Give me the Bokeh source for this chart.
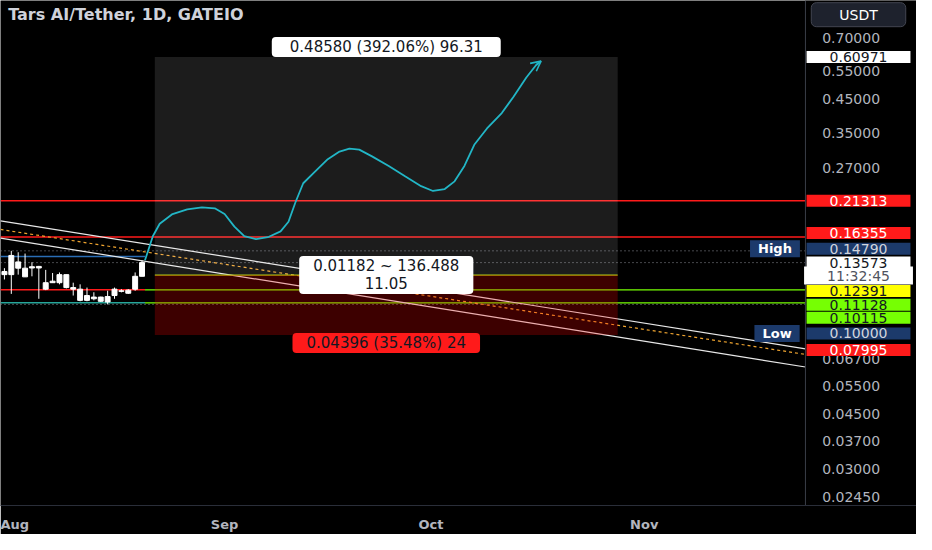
from bokeh.plotting import figure
from bokeh.models import Range1d, FixedTicker, Label, Arrow, OpenHead
from bokeh.core.properties import value
from bokeh.embed import file_html
from bokeh.resources import INLINE

# ---------------- data ----------------
TITLE = "Tars AI/Tether, 1D, GATEIO"
CURRENCY = "USDT"

month_days = [0, 31, 61, 92]            # days since 1 Aug
month_names = ["Aug", "Sep", "Oct", "Nov"]
price_ticks = [0.70, 0.55, 0.45, 0.35, 0.27, 0.067, 0.055, 0.045, 0.037, 0.030, 0.0245]

candle_day = list(range(-1, 20))
candle_open = [0.1272, 0.1243, 0.1364, 0.1303, 0.1317, 0.1305, 0.1172, 0.1185, 0.1172, 0.1243, 0.1131,
               0.1118, 0.1030, 0.1055, 0.1023, 0.1018, 0.1067, 0.1105, 0.1085, 0.1118, 0.1228]
candle_high = [0.1303, 0.1479, 0.1464, 0.1450, 0.1361, 0.1325, 0.1287, 0.1258, 0.1263, 0.1243, 0.1172,
               0.1158, 0.1131, 0.1093, 0.1058, 0.1105, 0.1131, 0.1118, 0.1118, 0.1263, 0.1380]
candle_low = [0.1200, 0.1080, 0.1243, 0.1223, 0.1228, 0.1042, 0.1110, 0.1172, 0.1158, 0.1124, 0.1067,
              0.1023, 0.1023, 0.1030, 0.1018, 0.1000, 0.1042, 0.1092, 0.1080, 0.1105, 0.1228]
candle_close = [0.1243, 0.1430, 0.1303, 0.1223, 0.1305, 0.1320, 0.1118, 0.1172, 0.1243, 0.1131, 0.1118,
                0.1030, 0.1067, 0.1042, 0.1055, 0.1059, 0.1118, 0.1100, 0.1110, 0.1228, 0.13573]

proj_day = [19.43, 20.57, 21.57, 23.43, 25.57, 27.71, 29.57, 31.0, 32.43, 33.86, 35.57, 37.29, 39.14,
            40.29, 41.29, 42.43, 44.14, 46.0, 47.71, 49.14, 50.57, 52.43, 54.86, 57.29, 59.57, 61.29,
            63.0, 64.43, 65.86, 67.29, 69.14, 71.29, 73.0, 74.86, 76.29, 77.0]
proj_price = [0.1380, 0.1646, 0.1803, 0.1935, 0.2003, 0.2032, 0.2018, 0.1935, 0.1765, 0.1646, 0.1611,
              0.1634, 0.1705, 0.1829, 0.2105, 0.2423, 0.2636, 0.2888, 0.3055, 0.3120, 0.3098, 0.2949,
              0.2749, 0.2545, 0.2372, 0.2290, 0.2323, 0.2457, 0.2749, 0.3209, 0.3616, 0.4046, 0.4560,
              0.5248, 0.5750, 0.5914]

red_levels = [0.21313, 0.16355]
green_levels = [0.11128, 0.10115]
blue_level = 0.1420
last_price = 0.13573
countdown = "11:32:45"
range_high = 0.14790
range_low = 0.10000

pos_start, pos_end = 20.86, 88.14
entry_price = 0.12391
target_price = 0.60971
stop_price = 0.07995
target_text = "0.48580 (392.06%) 96.31"
mid_text = "0.01182 ~ 136.488\n11.05"
stop_text = "0.04396 (35.48%) 24"

trend_days = [-1.571, 115.43]
trend_upper = [0.1842, 0.0723]
trend_lower = [0.1623, 0.0633]
trend_mid = [0.1729, 0.0694]

tag_values = [0.60971, 0.21313, 0.16355, 0.14790, 0.13573, 0.12391, 0.11128, 0.10115, 0.10000, 0.07995]
tag_bg = ["#ffffff", "#ff1a1a", "#ff1a1a", "#1c3a6b", "#ffffff", "#ffff00", "#76ff03", "#76ff03",
          "#1c3a6b", "#ff1a1a"]
tag_fg = ["#131722", "#ffffff", "#ffffff", "#d1d4dc", "#131722", "#131722", "#131722", "#131722",
          "#d1d4dc", "#ffffff"]
tag_shift = [0, 0, -4, -2, 0, 16, 15, 15, 29, 15]   # px (down) to avoid overlapping

# ---------------- figure ----------------
X0, X1 = -11 / 7, 921 / 7       # chart + price-scale strip
AXIS_X = 808 / 7                # price scale border
TICK_X = 825 / 7                # price scale label column
TAG_X = 862 / 7                 # price tag centre
FONT = "DejaVu Sans"
CYAN = "#22b6c6"
Y0, Y1 = 0.02302, 0.9207

p = figure(width=916, height=534, x_range=Range1d(X0, X1), y_range=Range1d(Y0, Y1),
           y_axis_type="log", y_axis_location=None, output_backend="svg", toolbar_location=None,
           min_border_left=0, min_border_top=0, min_border_right=0, min_border_bottom=24,
           background_fill_color="#000000", border_fill_color="#000000", outline_line_color=None)
p.xgrid.grid_line_color = None
p.ygrid.grid_line_color = None

xa = p.xaxis[0]
xa.ticker = FixedTicker(ticks=month_days)
xa.major_label_overrides = {d: n for d, n in zip(month_days, month_names)}
xa.axis_line_color = "#2a2e39"
xa.major_tick_line_color = None
xa.minor_tick_line_color = None
xa.major_label_text_color = "#b2b5be"
xa.major_label_text_font = FONT
xa.major_label_text_font_size = "13px"
xa.major_label_text_font_style = "bold"
xa.major_label_standoff = 5

ray_start = candle_day[-1] + 0.43

# horizontal levels
for lv in red_levels:
    p.segment(x0=X0, y0=lv, x1=AXIS_X, y1=lv, line_color="#ff1a1a", line_width=1.5)
p.segment(x0=X0, y0=green_levels[0], x1=ray_start, y1=green_levels[0], line_color="#ff1a1a", line_width=1.5)
p.segment(x0=X0, y0=green_levels[1], x1=ray_start, y1=green_levels[1], line_color="#26a69a", line_width=1.5)
for lv in green_levels:
    p.segment(x0=ray_start, y0=lv, x1=AXIS_X, y1=lv, line_color="#76ff03", line_width=1.2)
p.segment(x0=X0, y0=blue_level, x1=ray_start, y1=blue_level, line_color="#2a6db5", line_width=1.5)
for lv in [range_high, last_price, range_low]:
    p.segment(x0=X0, y0=lv, x1=AXIS_X, y1=lv, line_color="#8a8d96", line_width=1, line_dash="1 3")

# trend lines
p.line(trend_days, trend_upper, line_color="#e8e8e8", line_width=1.2)
p.line(trend_days, trend_lower, line_color="#e8e8e8", line_width=1.2)
p.line(trend_days, trend_mid, line_color="#f0a530", line_width=1.2, line_dash="3 3")

# position tool
p.segment(x0=pos_start, y0=entry_price, x1=pos_end, y1=entry_price, line_color="#a8c800", line_width=1.2)
p.quad(left=[pos_start], right=[pos_end], bottom=[entry_price], top=[target_price],
       fill_color="#ffffff", fill_alpha=0.11, line_color=None)
p.quad(left=[pos_start], right=[pos_end], bottom=[stop_price], top=[entry_price],
       fill_color="#ff0000", fill_alpha=0.24, line_color=None)

# candles
body_top = [max(o, c) for o, c in zip(candle_open, candle_close)]
body_bot = [min(o, c) for o, c in zip(candle_open, candle_close)]
p.segment(x0=candle_day, y0=candle_low, x1=candle_day, y1=candle_high, line_color="#ffffff", line_width=1)
p.vbar(x=candle_day, width=0.72, top=body_top, bottom=body_bot, fill_color="#ffffff", line_color="#ffffff")

# projection
p.line(proj_day, proj_price, line_color=CYAN, line_width=1.8)
p.add_layout(Arrow(end=OpenHead(size=10, line_color=CYAN, line_width=1.6),
                   x_start=proj_day[-2], y_start=proj_price[-2], x_end=proj_day[-1], y_end=proj_price[-1],
                   line_color=CYAN, line_width=1.8))

# price scale (right strip)
p.quad(left=[AXIS_X], right=[X1], bottom=[Y0], top=[Y1], fill_color="#000000", line_color=None)
p.segment(x0=[AXIS_X], y0=[Y0], x1=[AXIS_X], y1=[Y1], line_color="#3a3e48", line_width=1)
p.text(x=[TICK_X] * len(price_ticks), y=price_ticks, text=["%.5f" % v for v in price_ticks],
       text_font=value(FONT), text_font_size="14px", text_color="#b2b5be",
       text_align="left", text_baseline="middle")

# title
p.add_layout(Label(x=-0.45, y=0.83, text=TITLE, text_font=FONT, text_font_size="16px",
                   text_font_style="bold", text_color="#cfd2da", text_baseline="middle"))

# currency button
p.add_layout(Label(x=TAG_X, y=0.83, text=CURRENCY, text_font=FONT, text_font_size="14px",
                   text_color="#ffffff", text_align="center", text_baseline="middle",
                   background_fill_color="#1e222d", border_line_color="#434651", border_radius=5,
                   padding={"x": 28, "y": 4}))

# countdown below the last-price tag (drawn first so that the tags below overlap it)
p.add_layout(Label(x=TAG_X, y=last_price, y_offset=-13, text=countdown, text_font=FONT,
                   text_font_size="14px", text_color="#50535e", text_align="center",
                   text_baseline="middle", background_fill_color="#ffffff", padding={"x": 23, "y": 1}))

# price tags
for v, bg, fg, sh in zip(tag_values, tag_bg, tag_fg, tag_shift):
    p.add_layout(Label(x=TAG_X, y=v, y_offset=-sh, text="%.5f" % v, text_font=FONT,
                       text_font_size="14px", text_color=fg, text_align="center",
                       text_baseline="middle", background_fill_color=bg, padding={"x": 23, "y": 1}))

# High / Low labels
p.add_layout(Label(x=111.0, y=range_high, y_offset=2, text="High", text_font=FONT, text_font_size="13px",
                   text_font_style="bold", text_color="#ffffff", text_align="center",
                   text_baseline="middle", background_fill_color="#1c3a6b", padding={"x": 8, "y": 1}))
p.add_layout(Label(x=111.3, y=range_low, y_offset=-29, text="Low", text_font=FONT, text_font_size="13px",
                   text_font_style="bold", text_color="#ffffff", text_align="center",
                   text_baseline="middle", background_fill_color="#1c3a6b", padding={"x": 8, "y": 1}))

# position labels
pos_mid = (pos_start + pos_end) / 2
p.add_layout(Label(x=pos_mid, y=target_price, y_offset=10, text=target_text, text_font=FONT,
                   text_font_size="15px", text_color="#131722", text_align="center", text_baseline="middle",
                   background_fill_color="#ffffff", border_radius=4, padding={"x": 18, "y": 1}))
p.add_layout(Label(x=pos_mid, y=entry_price, text=mid_text, text_font=FONT, text_line_height=1.0,
                   text_font_size="15px", text_color="#131722", text_align="center", text_baseline="middle",
                   background_fill_color="#ffffff", border_radius=4, padding={"x": 14, "y": 1}))
p.add_layout(Label(x=pos_mid, y=stop_price, y_offset=-8, text=stop_text, text_font=FONT,
                   text_font_size="15px", text_color="#131722", text_align="center", text_baseline="middle",
                   background_fill_color="#ff1a1a", border_radius=4, padding={"x": 14, "y": 1}))

open("out.html", "w").write(file_html(p, INLINE))
